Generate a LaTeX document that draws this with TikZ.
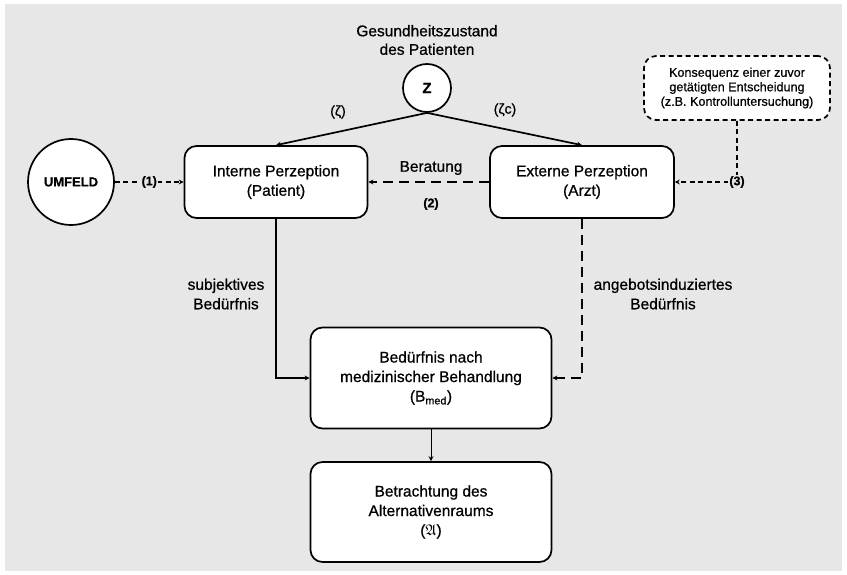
\documentclass[tikz,border=0pt]{standalone}
\usepackage{fontspec}
\setmainfont{Liberation Sans}[FakeBold=0.7]
\usepackage{amssymb}
\usetikzlibrary{arrows.meta}
\definecolor{bg}{RGB}{231,231,231}
\begin{document}
\begin{tikzpicture}[x=1pt,y=-1pt,
  every node/.style={font=\fontsize{15.5}{19.5}\selectfont},
  box/.style={draw=black, line width=1.7pt, fill=white, rounded corners=12pt, align=center, inner sep=0pt},
  circ/.style={draw=black, circle, line width=1.7pt, fill=white, inner sep=0pt},
  lbl/.style={align=center, inner sep=1pt},
  tag/.style={fill=bg, inner sep=1.5pt, font=\fontsize{12.5}{14}\selectfont\bfseries},
  conn/.style={line width=1.3pt, -{Stealth[length=5pt,width=5pt]}},
  fined/.style={dash pattern=on 5pt off 3.5pt},
  longd/.style={dash pattern=on 10pt off 6pt},
]
\useasboundingbox (0,0) rectangle (847,575);
\fill[white] (0,0) rectangle (847,575);
\fill[bg] (5,4) rectangle (842,571);

% title
\node[lbl, font=\fontsize{15.5}{18.5}\selectfont] (title) at (427,40) {Gesundheitszustand\\des Patienten};

% nodes
\node[circ, minimum size=48pt, font=\fontsize{15}{16}\selectfont\bfseries] (z) at (427,88) {Z};
\node[circ, minimum size=86pt, font=\fontsize{13}{15}\selectfont\bfseries] (umf) at (71,182) {UMFELD};
\node[box, minimum width=183pt, minimum height=72pt] (int) at (276,182) {Interne Perzeption\\(Patient)};
\node[box, minimum width=184pt, minimum height=72pt] (ext) at (582,182) {Externe Perzeption\\(Arzt)};
\node[box, fined, minimum width=186pt, minimum height=64pt, font=\fontsize{12.6}{14.5}\selectfont] (kons) at (737,88) {Konsequenz einer zuvor\\getätigten Entscheidung\\(z.B. Kontrolluntersuchung)};
\node[box, minimum width=241pt, minimum height=101pt] (bmed) at (431,378) {Bedürfnis nach\\medizinischer Behandlung\\(B\textsubscript{med})};
\node[box, minimum width=241pt, minimum height=100pt] (alt) at (431,512) {Betrachtung des\\Alternativenraums\\($\mathfrak{A}$)};

% Z to perceptions
\draw[conn, line width=1.7pt] (z.south) -- (int.north);
\draw[conn, line width=1.7pt] (z.south) -- (ext.north);
\node[lbl, font=\fontsize{14}{15}\selectfont] (zl) at (338,112) {(ζ)};
\node[lbl, font=\fontsize{14}{15}\selectfont] (zr) at (505,110) {(ζc)};

% (1)
\draw[conn, fined] (umf.east) -- (int.west) node[tag, midway] (t1) {(1)};

% (2) Beratung
\draw[conn, longd] (ext.west) -- (int.east);
\node[lbl] (ber) at (431,168) {Beratung};
\node[lbl, font=\fontsize{12.5}{14}\selectfont\bfseries] (t2) at (431,204) {(2)};

% (3)
\coordinate (c3) at (kons.south |- ext.east);
\draw[line width=1.3pt, fined] (kons.south) -- (c3);
\draw[conn, fined] (c3) -- (ext.east);
\node[tag] (t3) at (c3) {(3)};

% needs
\draw[conn] (int.south) |- (bmed.west);
\draw[conn, longd] (ext.south) |- (bmed.east);
\node[lbl] (subj) at (226,294) {subjektives\\Bedürfnis};
\node[lbl] (angeb) at (663,294) {angebotsinduziertes\\Bedürfnis};

% to alternatives
\draw[conn, line width=1pt] (bmed.south) -- (alt.north);
\end{tikzpicture}
\end{document}
